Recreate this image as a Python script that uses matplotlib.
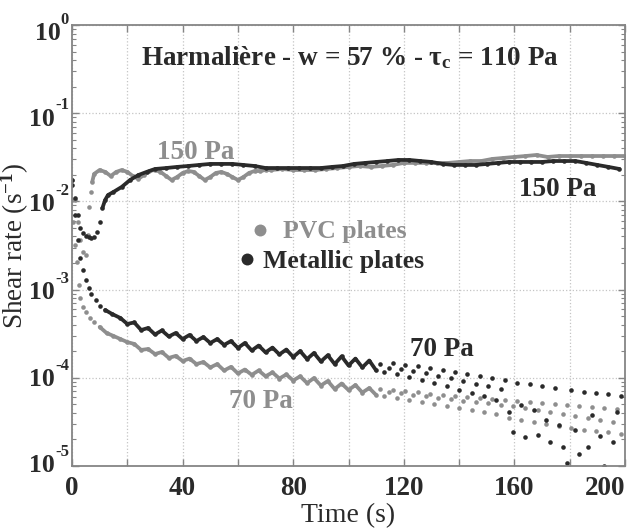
import numpy as np
import matplotlib
matplotlib.use('Agg')
import matplotlib.pyplot as plt
from matplotlib.ticker import LogLocator, NullFormatter

plt.rcParams['font.family'] = 'Liberation Serif'
plt.rcParams['font.weight'] = 'bold'
plt.rcParams['mathtext.fontset'] = 'custom'
plt.rcParams['mathtext.rm'] = 'Liberation Serif:bold'
plt.rcParams['mathtext.it'] = 'Liberation Serif:italic:bold'
plt.rcParams['mathtext.bf'] = 'Liberation Serif:bold'

# PVC plates, 150 Pa
t_pvc_150 = [0, 1, 2, 3, 4, 5, 5.8, 6.2, 6.9, 7.3, 8, 10, 12, 14, 16, 18, 20, 22, 24, 26,
             28, 30, 32, 34, 36, 38, 40, 42, 44, 46, 48, 50, 52, 54, 56, 58, 60, 62, 64, 66,
             68, 70, 72, 76, 80, 84, 88, 92, 96, 100, 104, 108, 112, 116, 120, 124, 128, 132,
             136, 140, 144, 148, 152, 156, 160, 164, 168, 172, 176, 180, 184, 188, 192, 196, 200]
v_pvc_150 = [1.75e-2, 1.04e-2, 5.84e-3, 3.65e-3, 2.67e-3, 2.47e-3, 4.16e-3, 8.64e-3, 1.28e-2, 1.66e-2,
             2.05e-2, 2.27e-2, 2.16e-2, 1.94e-2, 2.16e-2, 2.27e-2, 2.16e-2, 1.94e-2, 1.80e-2, 1.99e-2,
             2.21e-2, 2.27e-2, 2.16e-2, 1.94e-2, 1.75e-2, 1.89e-2, 2.10e-2, 2.21e-2, 2.16e-2, 1.94e-2,
             1.75e-2, 1.89e-2, 2.10e-2, 2.16e-2, 2.05e-2, 1.89e-2, 1.75e-2, 1.89e-2, 2.10e-2, 2.21e-2,
             2.21e-2, 2.27e-2, 2.27e-2, 2.33e-2, 2.27e-2, 2.27e-2, 2.27e-2, 2.33e-2, 2.39e-2, 2.46e-2,
             2.52e-2, 2.46e-2, 2.52e-2, 2.59e-2, 2.73e-2, 2.73e-2, 2.73e-2, 2.73e-2, 2.73e-2, 2.80e-2,
             2.87e-2, 2.87e-2, 3.03e-2, 3.11e-2, 3.19e-2, 3.27e-2, 3.36e-2, 3.19e-2, 3.27e-2, 3.27e-2,
             3.27e-2, 3.27e-2, 3.27e-2, 3.27e-2, 3.27e-2]

# Metallic plates, 150 Pa
t_met_150 = [0, 1, 2, 3, 4, 5, 6, 7, 8, 9, 10, 11, 12, 13, 15, 18, 21, 24, 27, 30, 34, 38, 42,
             46, 50, 54, 58, 62, 66, 70, 74, 78, 82, 86, 90, 94, 98, 102, 106, 110, 114, 118, 122,
             126, 130, 134, 138, 142, 146, 150, 154, 158, 162, 166, 170, 174, 178, 182, 186, 190,
             194, 198]
v_met_150 = [1.75e-2, 1.09e-2, 7.01e-3, 4.99e-3, 4.38e-3, 4.05e-3, 3.95e-3, 3.85e-3, 3.95e-3, 4.50e-3,
             5.84e-3, 8.42e-3, 1.04e-2, 1.18e-2, 1.28e-2, 1.46e-2, 1.75e-2, 1.99e-2, 2.16e-2, 2.33e-2,
             2.39e-2, 2.46e-2, 2.52e-2, 2.59e-2, 2.66e-2, 2.66e-2, 2.66e-2, 2.59e-2, 2.52e-2, 2.39e-2,
             2.39e-2, 2.39e-2, 2.39e-2, 2.39e-2, 2.39e-2, 2.46e-2, 2.52e-2, 2.66e-2, 2.73e-2, 2.80e-2,
             2.87e-2, 2.95e-2, 2.95e-2, 2.87e-2, 2.80e-2, 2.66e-2, 2.59e-2, 2.59e-2, 2.59e-2, 2.66e-2,
             2.73e-2, 2.80e-2, 2.80e-2, 2.80e-2, 2.80e-2, 2.87e-2, 2.87e-2, 2.87e-2, 2.73e-2, 2.59e-2,
             2.46e-2, 2.33e-2]

# Metallic plates, 70 Pa
t_met_70 = [0, 1, 2, 3, 4, 5, 6, 7, 8.5, 10, 12, 14.5, 17.5, 20, 22.5, 25, 27.5, 30, 32.5, 35,
            37.5, 40, 42.5, 45, 47.5, 50, 52.5, 55, 57.5, 60, 62.5, 65, 67.5, 70, 72.5, 75, 77.5,
            80, 82.5, 85, 87.5, 90, 92.5, 95, 97.5, 100, 102.5, 105, 107.5, 110,
            111.5, 113, 114.5, 116, 117.5, 119, 120.5, 122, 123.5, 125, 126.5, 128, 129.5, 131,
            132.5, 134, 135.5, 137, 138.5, 140, 141.5, 143, 144.5, 146, 147.5, 149, 150.5, 152,
            153.5, 155, 156.5, 158, 159.5, 161, 162.5, 164, 165.5, 167, 168.5, 170, 171.5, 173,
            174.5, 176, 177.5, 179, 180.5, 182, 183.5, 185, 186.5, 188, 189.5, 191, 192.5, 194,
            195.5, 197, 198.5]
v_met_70 = [1.54e-2, 7.01e-3, 3.65e-3, 2.28e-3, 1.67e-3, 1.28e-3, 1.04e-3, 8.91e-4, 7.62e-4, 6.52e-4,
            5.87e-4, 5.29e-4, 4.76e-4, 4.08e-4, 4.24e-4, 3.48e-4, 3.67e-4, 3.10e-4, 3.44e-4, 2.94e-4,
            3.22e-4, 2.75e-4, 3.06e-4, 2.61e-4, 2.90e-4, 2.48e-4, 2.75e-4, 2.36e-4, 2.61e-4, 2.18e-4,
            2.48e-4, 2.04e-4, 2.32e-4, 1.94e-4, 2.20e-4, 1.84e-4, 2.09e-4, 1.72e-4, 2.01e-4, 1.63e-4,
            1.91e-4, 1.53e-4, 1.80e-4, 1.43e-4, 1.75e-4, 1.38e-4, 1.65e-4, 1.31e-4, 1.57e-4, 1.21e-4,
            1.43e-4, 1.16e-4, 1.29e-4, 1.47e-4, 1.10e-4, 1.26e-4, 1.40e-4, 1.02e-4, 1.19e-4, 1.36e-4,
            9.43e-5, 1.13e-4, 1.29e-4, 8.72e-5, 1.05e-4, 1.23e-4, 8.07e-5, 9.93e-5, 1.16e-4, 7.26e-5,
            9.19e-5, 1.10e-4, 6.71e-5, 8.50e-5, 1.05e-4, 6.21e-5, 8.07e-5, 9.93e-5, 5.59e-5, 7.45e-5,
            9.43e-5, 4.09e-5, 2.43e-5, 8.72e-5, 4.91e-5, 2.14e-5, 8.50e-5, 4.31e-5, 2.25e-5, 8.07e-5,
            3.32e-5, 1.87e-5, 7.65e-5, 2.91e-5, 1.64e-5, 1.09e-5, 7.26e-5, 2.56e-5, 1.37e-5, 6.89e-5,
            1.64e-5, 3.78e-5, 6.71e-5, 2.19e-5, 1.01e-5, 6.54e-5, 1.87e-5, 4.09e-5, 6.21e-5]

# PVC plates, 70 Pa
t_pvc_70 = [0, 0.5, 1, 1.8, 2.5, 3, 4, 5, 6.5, 8, 10, 12.5, 15, 17.5, 20, 22.5, 25, 27.5, 30,
            32.5, 35, 37.5, 40, 42.5, 45, 47.5, 50, 52.5, 55, 57.5, 60, 62.5, 65, 67.5, 70, 72.5,
            75, 77.5, 80, 82.5, 85, 87.5, 90, 92.5, 95, 97.5, 100, 102.5, 105, 107.5, 110,
            111.5, 113, 114.5, 116, 117.5, 119, 120.5, 122, 123.5, 125, 126.5, 128, 129.5, 131,
            132.5, 134, 135.5, 137, 138.5, 140, 141.5, 143, 144.5, 146, 147.5, 149, 150.5, 152,
            153.5, 155, 156.5, 158, 159.5, 161, 162.5, 164, 165.5, 167, 168.5, 170, 171.5, 173,
            174.5, 176, 177.5, 179, 180.5, 182, 183.5, 185, 186.5, 188, 189.5, 191, 192.5, 194,
            195.5, 197, 198.5]
v_pvc_70 = [1.04e-2, 5.84e-3, 3.20e-3, 2.06e-3, 1.13e-3, 8.03e-4, 6.35e-4, 5.57e-4, 4.76e-4, 4.29e-4,
            3.77e-4, 3.22e-4, 2.98e-4, 2.75e-4, 2.54e-4, 2.42e-4, 2.07e-4, 2.12e-4, 1.86e-4, 1.96e-4,
            1.68e-4, 1.77e-4, 1.55e-4, 1.65e-4, 1.43e-4, 1.51e-4, 1.31e-4, 1.43e-4, 1.21e-4, 1.33e-4,
            1.12e-4, 1.24e-4, 1.08e-4, 1.21e-4, 1.04e-4, 1.15e-4, 9.81e-5, 1.09e-4, 9.31e-5, 1.04e-4,
            8.72e-5, 9.93e-5, 8.17e-5, 9.19e-5, 7.45e-5, 8.61e-5, 7.26e-5, 8.28e-5, 6.80e-5, 7.65e-5,
            6.37e-5,
            7.45e-5, 6.21e-5, 6.89e-5, 7.26e-5, 5.89e-5, 6.71e-5, 7.07e-5, 5.59e-5, 6.37e-5, 6.89e-5,
            5.31e-5, 6.21e-5, 6.54e-5, 5.04e-5, 5.89e-5, 6.37e-5, 4.78e-5, 5.74e-5, 6.21e-5, 4.54e-5,
            5.45e-5, 6.05e-5, 4.31e-5, 5.31e-5, 5.89e-5, 4.09e-5, 5.17e-5, 5.74e-5, 3.88e-5, 4.91e-5,
            5.59e-5, 3.50e-5, 4.78e-5, 5.45e-5, 3.32e-5, 4.54e-5, 5.31e-5, 3.15e-5, 4.31e-5, 5.17e-5,
            2.99e-5, 4.09e-5, 5.04e-5, 2.84e-5, 3.88e-5, 4.91e-5, 2.70e-5, 3.68e-5, 4.78e-5, 2.56e-5,
            3.50e-5, 4.66e-5, 2.49e-5, 3.32e-5, 4.54e-5, 2.43e-5, 3.15e-5, 4.42e-5, 2.31e-5]

x_ticks = list(range(0, 201, 20))
x_labels = ['0', '', '40', '', '80', '', '120', '', '160', '', '200']
y_ticks = [1e-5, 1e-4, 1e-3, 1e-2, 1e-1, 1e0]
y_exps = ['-5', '-4', '-3', '-2', '-1', '0']

gray = '#8e8e8e'
dark = '#2a2a2a'
axis_col = '#858585'

fig = plt.figure(figsize=(6.3, 5.32), dpi=100)
ax = fig.add_axes([0.1143, 0.1241, 0.8778, 0.8289])
ax.set_yscale('log')


def draw(t, v, color, t0, t1):
    t = np.asarray(t)
    v = np.asarray(v)
    seg = (t >= t0) & (t <= t1)
    ax.plot(t[seg], v[seg], '-', color=color, lw=2.7, solid_capstyle='round')
    h, = ax.plot(t, v, 'o', color=color, ms=3.3, mew=0)
    return h


h_pvc = draw(t_pvc_150, v_pvc_150, gray, 7.3, 200)
draw(t_pvc_70, v_pvc_70, gray, 10, 110)
h_met = draw(t_met_150, v_met_150, dark, 11, 200)
draw(t_met_70, v_met_70, dark, 12, 110)

ax.set_xlim(0, 200)
ax.set_ylim(1e-5, 1)
ax.set_xticks(x_ticks)
ax.set_xticklabels(x_labels)
ax.set_yticks(y_ticks)
ax.set_yticklabels([])
ax.yaxis.set_minor_locator(LogLocator(base=10, subs=range(2, 10)))
ax.yaxis.set_minor_formatter(NullFormatter())
ax.xaxis.get_major_ticks()[-1].label1.set_horizontalalignment('right')

# y tick labels drawn as "10" plus a small raised exponent, like the original
exp_dy = [14, 12, 11, 10.5, 8, 5.5]
for tk, ex, dy in zip(y_ticks, y_exps, exp_dy):
    e = ax.annotate(ex, xy=(0, tk), xycoords=('axes fraction', 'data'), xytext=(-3, dy),
                    textcoords='offset pixels', ha='right', va='center', fontsize=12, color=dark)
    ax.annotate('10', xy=(0, 0.5), xycoords=e, xytext=(0, -14), textcoords='offset pixels',
                ha='right', va='center', fontsize=18.5, color=dark)

ax.tick_params(which='both', direction='in', top=True, right=True,
               color=axis_col, labelcolor=dark, labelsize=19.5)
ax.tick_params(which='major', length=5, width=1)
ax.tick_params(which='minor', length=3, width=0.8)
ax.tick_params(axis='x', pad=7)
ax.grid(True, which='major', ls=':', color='#c4c4c4', lw=0.9)
for s in ax.spines.values():
    s.set_color(axis_col)
    s.set_linewidth(1.3)

ax.set_xlabel('Time (s)', fontsize=20, color=dark, labelpad=2)
ax.set_ylabel('Shear rate (s$^{-1}$)', fontsize=19.5, color=dark)
ax.yaxis.set_label_coords(-0.074, 0.5)

ax.text(0.503, 0.927, 'Harmalière - w = 57 % - τ$_\\mathrm{c}$ = 110 Pa',
        transform=ax.transAxes, ha='center', va='center', fontsize=19.5, color=dark)
ax.text(44.9, 3.6e-2, '150 Pa', ha='center', va='center', fontsize=19.5, color=gray)
ax.text(175.6, 1.38e-2, '150 Pa', ha='center', va='center', fontsize=19.5, color=dark)
ax.text(133.6, 2.07e-4, '70 Pa', ha='center', va='center', fontsize=19.5, color=dark)
ax.text(68.4, 5.45e-5, '70 Pa', ha='center', va='center', fontsize=19.5, color=gray)

leg1 = ax.legend([h_pvc], ['PVC plates'], loc='center left', bbox_to_anchor=(0.3264, 0.5306),
                 frameon=False, fontsize=18.5, markerscale=2.6, borderpad=0, borderaxespad=0,
                 handlelength=0.6, handletextpad=0.58, labelcolor='markerfacecolor')
ax.add_artist(leg1)
ax.legend([h_met], ['Metallic plates'], loc='center left', bbox_to_anchor=(0.3029, 0.4626),
          frameon=False, fontsize=18.5, markerscale=2.6, borderpad=0, borderaxespad=0,
          handlelength=0.6, handletextpad=0.3, labelcolor='markerfacecolor')

fig.savefig('out.png', dpi=100)
